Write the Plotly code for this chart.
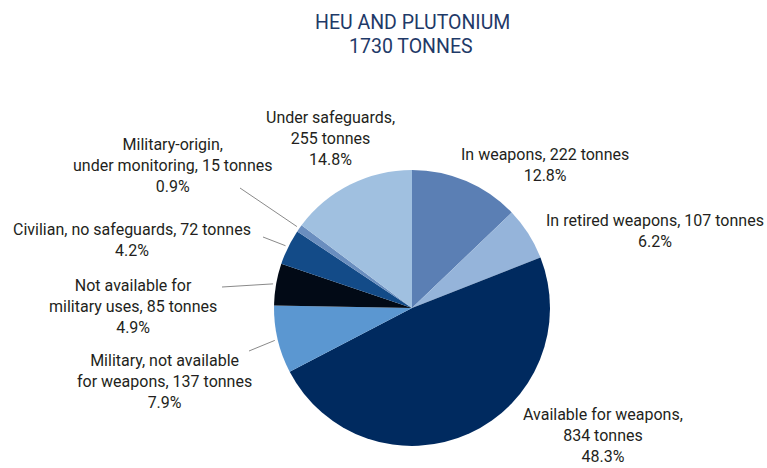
import math
import plotly.graph_objects as go

W, H = 767, 468

categories = [
    "In weapons", "In retired weapons", "Available for weapons",
    "Military, not available for weapons", "Not available for military uses",
    "Civilian, no safeguards", "Military-origin, under monitoring", "Under safeguards",
]
tonnes = [222, 107, 834, 137, 85, 72, 15, 255]
percent_labels = ["12.8%", "6.2%", "48.3%", "7.9%", "4.9%", "4.2%", "0.9%", "14.8%"]
label_texts = [
    "In weapons, 222 tonnes<br>12.8%",
    "In retired weapons, 107 tonnes<br>6.2%",
    "Available for weapons,<br>834 tonnes<br>48.3%",
    "Military, not available<br>for weapons, 137 tonnes<br>7.9%",
    "Not available for<br>military uses, 85 tonnes<br>4.9%",
    "Civilian, no safeguards, 72 tonnes<br>4.2%",
    "Military-origin,<br>under monitoring, 15 tonnes<br>0.9%",
    "Under safeguards,<br>255 tonnes<br>14.8%",
]
colors = ["#5b7fb4", "#95b4da", "#002a5f", "#5b97d1", "#020a16", "#134b88", "#6a8ebf", "#a0c0e0"]

# layout (pixel) settings
CX, CY, R = 412, 308, 138
label_pos = [(545, 165), (655, 231), (603, 435), (164, 381), (133, 306), (132, 240), (172, 165), (330, 138)]
leader_outer = {3: (249, 351), 4: (222, 287), 5: (263, 237), 6: (240, 188)}
LABEL_FONT = "Roboto, sans-serif"

def px(x):
    return x / W

def py(y):
    return 1 - y / H

fig = go.Figure(go.Pie(
    labels=categories, values=tonnes, sort=False, direction="clockwise", rotation=0,
    marker=dict(colors=colors, line=dict(width=0)),
    textinfo="none", hoverinfo="label+value", showlegend=False,
    domain=dict(x=[px(CX - R), px(CX + R)], y=[py(CY + R), py(CY - R)]),
))

annotations = []
for txt, (x, y) in zip(label_texts, label_pos):
    annotations.append(dict(
        x=px(x), y=py(y), xref="paper", yref="paper", text=txt, showarrow=False,
        xanchor="center", yanchor="middle", align="center",
        font=dict(family=LABEL_FONT, size=16, color="#231f20"),
    ))
annotations.append(dict(x=px(412), y=py(22), xref="paper", yref="paper", text="HEU AND PLUTONIUM",
                        showarrow=False, xanchor="center", yanchor="middle",
                        font=dict(family=LABEL_FONT, size=19.5, color="#1f3a68")))
annotations.append(dict(x=px(411), y=py(47), xref="paper", yref="paper", text="1730 TONNES",
                        showarrow=False, xanchor="center", yanchor="middle",
                        font=dict(family=LABEL_FONT, size=19.5, color="#1f3a68")))

total = sum(tonnes)
cum = 0
shapes = []
for i, v in enumerate(tonnes):
    mid = (cum + v / 2) / total * 2 * math.pi
    cum += v
    if i in leader_outer:
        ix = CX + (R + 3) * math.sin(mid)
        iy = CY - (R + 3) * math.cos(mid)
        ox, oy = leader_outer[i]
        shapes.append(dict(type="line", xref="paper", yref="paper",
                           x0=px(ox), y0=py(oy), x1=px(ix), y1=py(iy),
                           line=dict(color="#8a8a8a", width=1)))

fig.update_layout(
    width=W, height=H, margin=dict(l=0, r=0, t=0, b=0),
    paper_bgcolor="white", plot_bgcolor="white",
    annotations=annotations, shapes=shapes,
)
fig.write_html("out.html", config={"displayModeBar": False},
               post_script="document.body.style.margin='0';document.body.style.overflow='hidden';")
